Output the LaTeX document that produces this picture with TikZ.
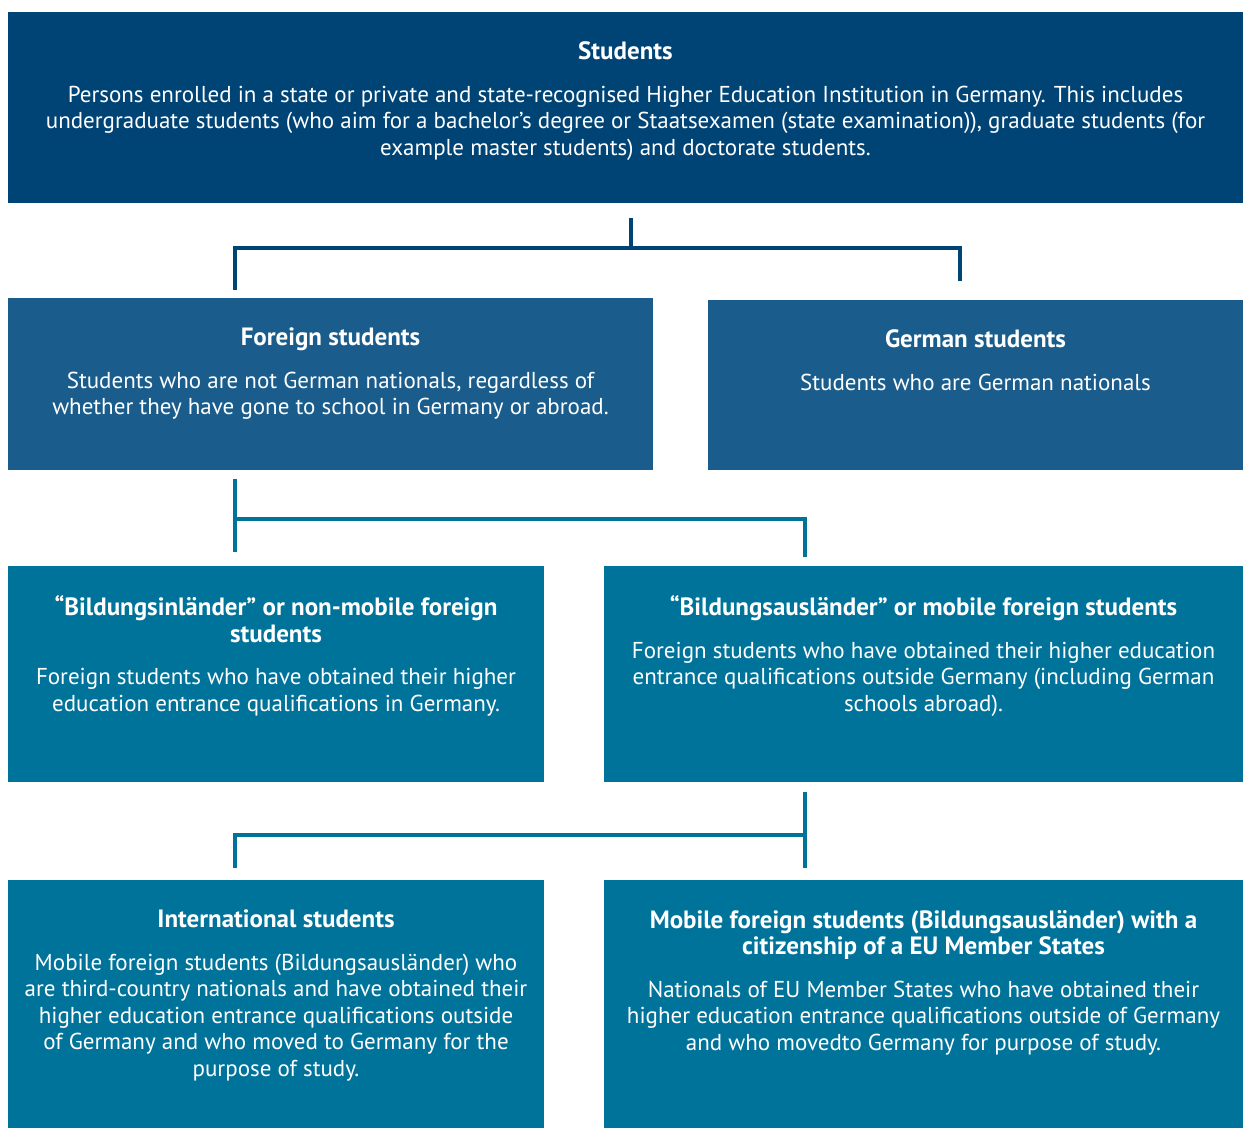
\documentclass[tikz,border=0pt]{standalone}
\usepackage{fontspec}
\setmainfont{PT Sans}
\usetikzlibrary{positioning}
\definecolor{navy}{HTML}{004476}
\definecolor{midblue}{HTML}{1A5D8C}
\definecolor{teal}{HTML}{00739A}
\begin{document}
\begin{tikzpicture}[x=1pt,y=-1pt]
	\tikzset{navybox/.style = {fill=navy,inner sep=0pt}}
	\tikzset{bluebox/.style = {fill=midblue,inner sep=0pt}}
	\tikzset{tealbox/.style = {fill=teal,inner sep=0pt}}
	\tikzset{boxtext/.style = {text=white,align=center,inner sep=0pt,anchor=north,font=\fontsize{23}{26.5}\selectfont}}
	\tikzset{link/.style = {line width=4pt}}
	\newcommand{\boxtitle}[1]{{\fontsize{25}{26.5}\selectfont\bfseries #1}}
	\useasboundingbox (0,0) rectangle (1243,1128);
	\node[navybox,minimum width=1235pt,minimum height=191pt] (students) at (625.5,107.5) {};
	\node[bluebox,minimum width=645pt,minimum height=172pt] (foreign) at (330.5,384) {};
	\node[bluebox,minimum width=535pt,minimum height=170pt] (german) at (975.5,385) {};
	\node[tealbox,minimum width=536pt,minimum height=216pt] (inlaender) at (276,674) {};
	\node[tealbox,minimum width=639pt,minimum height=216pt] (auslaender) at (923.5,674) {};
	\node[tealbox,minimum width=536pt,minimum height=248pt] (intl) at (276,1004) {};
	\node[tealbox,minimum width=639pt,minimum height=248pt] (eu) at (923.5,1004) {};
	\node[boxtext,below=30pt of students.north] (studentsText) {\boxtitle{Students}\\[16pt]
		Persons enrolled in a state or private and state-recognised Higher Education Institution in Germany. This includes\\
		undergraduate students (who aim for a bachelor’s degree or Staatsexamen (state examination)), graduate students (for\\
		example master students) and doctorate students.};
	\node[boxtext,below=30pt of foreign.north] (foreignText) {\boxtitle{Foreign students}\\[16pt]
		Students who are not German nationals, regardless of\\
		whether they have gone to school in Germany or abroad.};
	\node[boxtext,below=30pt of german.north] (germanText) {\boxtitle{German students}\\[16pt]
		Students who are German nationals};
	\node[boxtext,below=30pt of inlaender.north] (inlaenderText) {\boxtitle{“Bildungsinländer” or non-mobile foreign}\\
		\boxtitle{students}\\[16pt]
		Foreign students who have obtained their higher\\
		education entrance qualifications in Germany.};
	\node[boxtext,below=30pt of auslaender.north] (auslaenderText) {\boxtitle{“Bildungsausländer” or mobile foreign students}\\[16pt]
		Foreign students who have obtained their higher education\\
		entrance qualifications outside Germany (including German\\
		schools abroad).};
	\node[boxtext,below=30pt of intl.north] (intlText) {\boxtitle{International students}\\[16pt]
		Mobile foreign students (Bildungsausländer) who\\
		are third-country nationals and have obtained their\\
		higher education entrance qualifications outside\\
		of Germany and who moved to Germany for the\\
		purpose of study.};
	\node[boxtext,below=30pt of eu.north] (euText) {\boxtitle{Mobile foreign students (Bildungsausländer) with a}\\
		\boxtitle{citizenship of a EU Member States}\\[16pt]
		Nationals of EU Member States who have obtained their\\
		higher education entrance qualifications outside of Germany\\
		and who movedto Germany for purpose of study.};
	\coordinate (s1) at (631,218);
	\coordinate (s2) at (631,248);
	\coordinate (fLeg) at (235,290);
	\coordinate (gLeg) at (960,281);
	\coordinate (f1) at (235,479);
	\coordinate (f2) at (235,552);
	\coordinate (aLeg) at (805,557);
	\coordinate (a1) at (805,792);
	\coordinate (a2) at (805,868);
	\coordinate (iLeg) at (235,868);
	\draw[link,navy] (s1) -- (s2);
	\draw[link,navy] (fLeg) |- (s2) -| (gLeg);
	\draw[link,teal] (f1) -- (f2);
	\draw[link,teal] (f1 |- 0,519) -| (aLeg);
	\draw[link,teal] (a1) -- (a2);
	\draw[link,teal] (iLeg) |- (a2 |- 0,835);
\end{tikzpicture}
\end{document}
